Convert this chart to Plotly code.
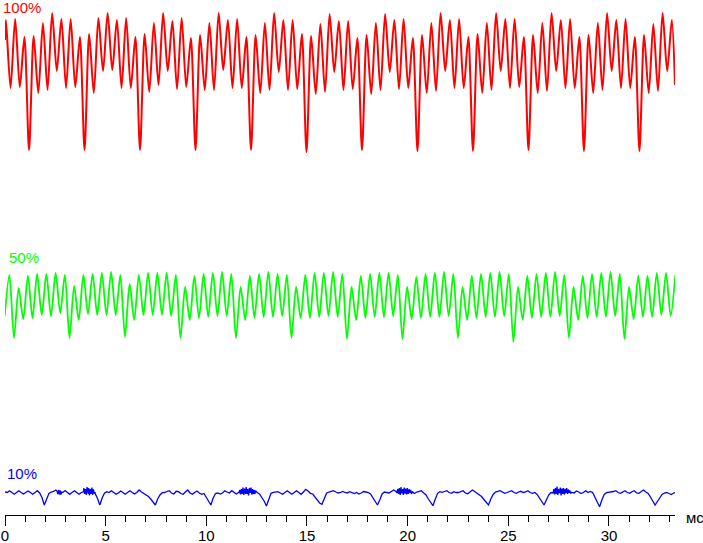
import numpy as np
import plotly.graph_objects as go

# ---------------- axis data ----------------
X_END = 33.28                      # ms, right end of time axis
x_tickvals = [0, 5, 10, 15, 20, 25, 30]
x_ticktext = ["0", "5", "10", "15", "20", "25", "30"]
x_unit = "мс"

# ---------------- 100 % (red) ----------------
red_label = "100%"
red_t0 = 0.0455                    # ms, first extremum
red_step = 0.2297                  # ms between successive extrema (sampling of the read values)
red_first = 475
red_last = 430
red_pre = [495, 427, 496, 428, 478, 365]
red_p01 = [479, 422, 492, 425, 502, 444, 496, 427, 496, 428, 478, 365]
red_p02 = [481, 422, 497, 444, 502, 445, 495, 427, 497, 427, 478, 365]
red_p03 = [481, 423, 492, 430, 502, 444, 494, 426, 497, 428, 477, 365]
red_p04 = [480, 425, 492, 425, 502, 445, 495, 427, 496, 427, 478, 365]
red_p05 = [480, 422, 492, 425, 502, 443, 495, 425, 495, 426, 481, 363]
red_p06 = [479, 421, 491, 423, 501, 443, 494, 425, 494, 426, 477, 365]
red_p07 = [480, 421, 492, 425, 501, 443, 495, 426, 496, 427, 477, 364]
red_p08 = [480, 422, 492, 424, 502, 444, 495, 427, 496, 427, 478, 364]
red_p09 = [481, 422, 492, 425, 502, 444, 496, 427, 496, 428, 478, 365]
red_p10 = [480, 422, 492, 424, 502, 444, 495, 427, 496, 427, 478, 364]
red_p11 = [480, 422, 492, 425, 502, 444, 495, 427, 496, 427, 478, 364]
red_post = [480, 422, 491, 424, 502, 444, 495]

# ---------------- 50 % (green) ----------------
green_label = "50%"
green_t0 = -0.0123
green_step = 0.2297
green_pre = [199, 240, 177]
green_p01 = [227, 196, 239, 197, 241, 200, 241, 199, 242, 202, 240, 177]
green_p02 = [229, 195, 240, 201, 241, 200, 242, 200, 243, 200, 240, 178]
green_p03 = [231, 195, 240, 200, 242, 200, 242, 200, 242, 199, 240, 177]
green_p04 = [228, 195, 239, 197, 241, 198, 242, 199, 243, 199, 241, 177]
green_p05 = [228, 195, 239, 197, 241, 198, 243, 198, 241, 199, 240, 177]
green_p06 = [228, 197, 240, 197, 242, 198, 242, 199, 243, 198, 241, 176]
green_p07 = [228, 195, 239, 197, 241, 198, 242, 198, 242, 199, 240, 176]
green_p08 = [228, 196, 238, 197, 241, 198, 242, 198, 243, 199, 241, 177]
green_p09 = [228, 195, 239, 197, 241, 198, 242, 198, 243, 199, 241, 173]
green_p10 = [228, 195, 239, 197, 241, 198, 242, 198, 243, 199, 240, 177]
green_p11 = [228, 195, 239, 197, 241, 198, 242, 198, 243, 199, 241, 176]
green_post = [228, 196, 239, 198, 239, 198, 242, 200, 242, 199, 240]

# ---------------- 10 % (blue) ----------------
blue_label = "10%"
blue_t0 = -0.0016
blue_step = 0.11492
blue_pre = [23, 22.5, 24.3, 22.5, 20.7, 22.5, 24.3, 22.5, 21, 22.5, 24, 22.5, 20.7, 22.5, 24.3, 22, 17.5]
blue_p00 = [10, 16, 21.5, 23, 23.5, 25, 22.5, 21, 22.5, 24.5, 22.5, 20.7, 22.5, 24.3, 22.5, 20.7, 22.5, 24.5, 23, 21, 22.5, 24.5, 21.5, 16.5]
blue_p01 = [10, 17, 21.7, 23.3, 22.5, 24.3, 22.5, 20.7, 22, 24, 22.5, 20.7, 22.5, 24.3, 22.5, 21, 22.5, 25, 23, 21.7, 20.5, 18.5, 16, 13]
blue_p02 = [10, 16, 20, 22.3, 22.5, 23.5, 24.3, 22, 21, 23.7, 23.3, 21.5, 20.7, 23, 25, 22, 20.7, 22.5, 24, 22, 20.7, 21.5, 18, 14.5]
blue_p03 = [10, 17, 21.5, 22, 21, 22, 24.3, 23, 22, 24.3, 23, 21, 22.5, 24, 23, 21, 22.5, 24.5, 22, 21, 22.5, 21, 18, 14]
blue_p04 = [9, 16.5, 21.7, 22.7, 23, 23.3, 22, 20.7, 22.5, 24.3, 22.5, 20.7, 22.5, 24.3, 22.5, 20.7, 23, 25.7, 24, 21.7, 21, 18, 14.5, 12]
blue_p05 = [10.7, 16.5, 21.7, 23, 23.5, 24.3, 23, 22, 22.5, 23.5, 22.5, 22, 23.3, 22.5, 21.5, 22.5, 21, 22, 23.5, 23, 22.5, 21, 17.5, 14]
blue_p06 = [10, 15, 21, 23, 22.5, 22, 23.5, 25, 23.5, 22, 23.5, 24, 22, 23, 24.5, 22, 21.5, 23, 24, 24.3, 22, 20, 16, 12.5]
blue_p07 = [9.3, 16, 21.7, 23.3, 22.7, 23.5, 24.3, 22.5, 21.7, 23.3, 22.5, 22.5, 23.5, 24.3, 22, 21.3, 23, 25, 23.5, 21.7, 20.5, 18.5, 15.5, 12.5]
blue_p08 = [10, 16, 20.5, 23, 24, 24.3, 23, 21.7, 22.5, 23.3, 24.3, 22.5, 21.7, 23, 23.7, 22.5, 23, 24.3, 22.5, 21.7, 22.5, 20.5, 17, 13]
blue_p09 = [10, 15, 20, 22.5, 23, 23.5, 22.5, 24, 23, 22, 23.5, 24, 22.5, 22, 24, 23, 21.5, 22.5, 24.3, 22.5, 23.5, 22.5, 18, 14]
blue_p10 = [8.3, 15, 20.5, 22.3, 22.5, 22.7, 23.5, 24.3, 22.5, 21.7, 23.3, 24.3, 22.5, 21.7, 23.3, 24.3, 22, 21.7, 23.5, 25, 23, 21.5, 18, 14]
blue_post = [10, 13.5, 17.5, 20.5, 22, 22.5, 21.5, 20.5, 22, 22.5]

# short noisy bursts in the 10 % trace (start time, ms, and readings)
burst_step = 0.04
burst_starts = [2.583, 3.875, 11.62, 19.47, 27.22]
burst_vals = [
    [24, 21, 25, 20.5, 24.5, 21, 23],
    [23, 27, 21, 26, 20, 28, 22, 27, 19.5, 26, 21, 27.5, 20, 25, 21.5, 23],
    [22, 25, 20.5, 26, 21, 27.5, 20, 26.5, 22, 28, 21, 26, 19.5, 27, 22, 27.5, 20.5, 26, 21, 25, 22, 24, 22.5],
    [22, 26, 21, 27, 20, 28, 21.5, 26, 20, 27.5, 22, 26.5, 20.5, 27, 21, 25.5, 22, 25, 21.5, 23.5],
    [22, 26, 20.5, 27, 21, 28.5, 20, 26, 22, 27.5, 19.5, 26.5, 21, 27, 20.5, 26, 22, 27, 21, 25.5, 22, 24, 21.5, 23],
]

Y_TOP = 515

# ---------------- build series ----------------
red_vals = np.array(red_pre + red_p01 + red_p02 + red_p03 + red_p04 + red_p05 + red_p06
                    + red_p07 + red_p08 + red_p09 + red_p10 + red_p11 + red_post, dtype=float)
red_t = red_t0 + red_step * np.arange(len(red_vals))
red_t = np.concatenate([[0.0], red_t, [X_END]])
red_vals = np.concatenate([[red_first], red_vals, [red_last]])

green_vals = np.array(green_pre + green_p01 + green_p02 + green_p03 + green_p04 + green_p05
                      + green_p06 + green_p07 + green_p08 + green_p09 + green_p10 + green_p11
                      + green_post, dtype=float)
green_t = green_t0 + green_step * np.arange(len(green_vals))

blue_vals = np.array(blue_pre + blue_p00 + blue_p01 + blue_p02 + blue_p03 + blue_p04 + blue_p05
                     + blue_p06 + blue_p07 + blue_p08 + blue_p09 + blue_p10 + blue_post, dtype=float)
blue_t = blue_t0 + blue_step * np.arange(len(blue_vals))
bt, bv = [blue_t], [blue_vals]
for s, vals in zip(burst_starts, burst_vals):
    bt.append(s + burst_step * np.arange(len(vals)))
    bv.append(np.array(vals, dtype=float))
blue_t = np.concatenate(bt)
blue_vals = np.concatenate(bv)
order = np.argsort(blue_t, kind="stable")
blue_t, blue_vals = blue_t[order], blue_vals[order]

FONT = "Liberation Sans, Arial, sans-serif"

fig = go.Figure()
fig.add_trace(go.Scatter(x=red_t, y=red_vals, mode="lines",
                         line=dict(color="#FF0000", width=2, shape="spline", smoothing=0.8),
                         hoverinfo="skip"))
fig.add_trace(go.Scatter(x=green_t, y=green_vals, mode="lines",
                         line=dict(color="#00FF00", width=1.8, shape="spline", smoothing=0.8),
                         hoverinfo="skip"))
fig.add_trace(go.Scatter(x=blue_t, y=blue_vals, mode="lines",
                         line=dict(color="#0000FF", width=1.3), hoverinfo="skip"))

fig.update_layout(
    width=703, height=543,
    margin=dict(l=5, r=28, t=0, b=28, pad=0, autoexpand=False),
    plot_bgcolor="white", paper_bgcolor="white",
    showlegend=False,
    xaxis=dict(range=[0, X_END], showgrid=False, zeroline=False, automargin=False,
               showline=True, linecolor="black", linewidth=1,
               tickmode="array", tickvals=x_tickvals, ticktext=x_ticktext,
               ticks="outside", ticklen=10, tickwidth=1, tickcolor="black",
               ticklabelstandoff=-3,
               minor=dict(dtick=1, ticks="outside", ticklen=6, tickwidth=1, tickcolor="black"),
               tickfont=dict(family=FONT, size=15, color="black")),
    yaxis=dict(range=[0, Y_TOP], visible=False, showgrid=False, zeroline=False, automargin=False),
    annotations=[
        dict(text=red_label, xref="paper", yref="y", x=0, y=508, xanchor="left", yanchor="middle",
             xshift=-4, showarrow=False, font=dict(family=FONT, size=15, color="#FF0000")),
        dict(text=green_label, xref="paper", yref="y", x=0, y=258, xanchor="left", yanchor="middle",
             xshift=2, showarrow=False, font=dict(family=FONT, size=15, color="#00FF00")),
        dict(text=blue_label, xref="paper", yref="y", x=0, y=42, xanchor="left", yanchor="middle",
             xshift=0, showarrow=False, font=dict(family=FONT, size=15, color="#0000FF")),
        dict(text=x_unit, xref="paper", yref="paper", x=1, y=0, xanchor="left", yanchor="middle",
             xshift=9, yshift=-2, showarrow=False, font=dict(family=FONT, size=15, color="black")),
    ],
)

fig.write_html("out.html", config={"displayModeBar": False},
               post_script="document.body.style.margin='0';document.body.style.overflow='hidden';")
